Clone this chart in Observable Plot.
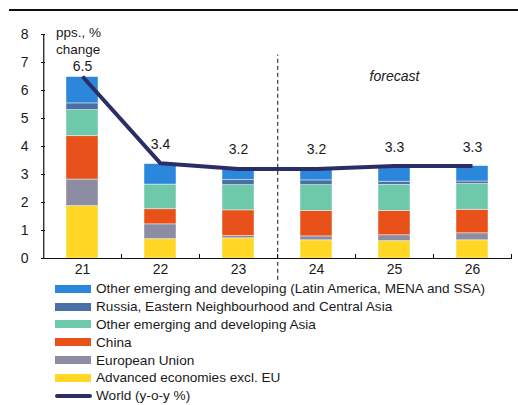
<!DOCTYPE html>
<html>
<head>
<meta charset="utf-8">
<script src="https://cdn.jsdelivr.net/npm/d3@7"></script>
<script src="https://cdn.jsdelivr.net/npm/@observablehq/plot@0.6"></script>
<style>
  body { margin: 0; background: #fff; font-family: "Liberation Sans", Arial, sans-serif; color: #1a1a1a; }
  #wrap { position: relative; width: 518px; height: 405px; overflow: hidden; }
  #rule { position: absolute; left: 9px; top: 9px; width: 509px; height: 2px; background: #111; }
  #chart { position: absolute; left: 0; top: 0; }
  #unit { position: absolute; left: 56px; top: 24px; font-size: 13.5px; line-height: 17px; }
  #legend { position: absolute; left: 55px; top: 280px; font-size: 13.6px; }
  .row { height: 17.8px; display: flex; align-items: center; white-space: nowrap; }
  .sw { width: 36px; height: 8px; margin-right: 5px; }
  .ln { width: 37px; height: 4px; border-radius: 2px; margin-right: 4px; }
</style>
</head>
<body>
<div id="wrap">
  <div id="chart"></div>
  <div id="rule"></div>
  <div id="unit">pps., %<br>change</div>
  <div id="legend"></div>
</div>
<script>
const years = ["21", "22", "23", "24", "25", "26"];
const seriesNames = [
  "Advanced economies excl. EU",
  "European Union",
  "China",
  "Other emerging and developing Asia",
  "Russia, Eastern Neighbourhood and Central Asia",
  "Other emerging and developing (Latin America, MENA and SSA)"
];
const seriesColors = ["#ffd724", "#8c8ca2", "#e8521a", "#6dc9a9", "#4a6fa5", "#2a87db"];
const advanced = [1.87, 0.69, 0.72, 0.65, 0.62, 0.65];
const eu       = [0.95, 0.53, 0.08, 0.14, 0.21, 0.25];
const china    = [1.55, 0.54, 0.92, 0.91, 0.87, 0.84];
const otherAsia = [0.93, 0.88, 0.90, 0.92, 0.93, 0.92];
const russia   = [0.24, 0.00, 0.18, 0.17, 0.11, 0.09];
const otherEm  = [0.94, 0.73, 0.37, 0.41, 0.56, 0.55];
const world    = [6.5, 3.4, 3.2, 3.2, 3.3, 3.3];
const worldLabels = ["6.5", "3.4", "3.2", "3.2", "3.3", "3.3"];
const worldName = "World (y-o-y %)";
const yTicks = [0, 1, 2, 3, 4, 5, 6, 7, 8];
const forecastLabel = "forecast";
const forecastAt = {x: "25", y: 6.5};
const forecastStart = "23";

const seriesValues = [advanced, eu, china, otherAsia, russia, otherEm];
const stackData = [];
seriesNames.forEach((s, i) => years.forEach((y, j) => stackData.push({year: y, series: s, value: seriesValues[i][j]})));
const worldData = years.map((y, j) => ({year: y, value: world[j], label: worldLabels[j]}));

const W = 518, H = 282, mL = 41, mR = 6, mT = 34, mB = 24;
const step = (W - mL - mR) / years.length;

function axisTicks(index, scales, values, dimensions) {
  const g = d3.create("svg:g").attr("stroke", "#111").attr("stroke-width", 1);
  const x0 = dimensions.marginLeft;
  const yb = dimensions.height - dimensions.marginBottom;
  for (const t of yTicks) {
    const y = Math.round(scales.y(t)) + 0.5;
    g.append("line").attr("x1", x0).attr("x2", x0 + 4).attr("y1", y).attr("y2", y);
  }
  const bw = typeof scales.x.bandwidth === "function" ? scales.x.bandwidth() : 0;
  years.forEach((yr, i) => {
    if (i === 0) return;
    const bx = Math.round(scales.x(yr) + bw / 2 - step / 2) + 0.5;
    g.append("line").attr("x1", bx).attr("x2", bx).attr("y1", yb).attr("y2", yb - 4);
  });
  const xe = dimensions.width - dimensions.marginRight - 0.5;
  g.append("line").attr("x1", xe).attr("x2", xe).attr("y1", yb).attr("y2", yb - 4);
  return g.node();
}

const chart = Plot.plot({
  width: W, height: H,
  marginLeft: mL, marginRight: mR, marginTop: mT, marginBottom: mB,
  style: {fontFamily: "'Liberation Sans', Arial, sans-serif", fontSize: "14px", color: "#1a1a1a", background: "transparent"},
  x: {domain: years, paddingInner: 0.59, paddingOuter: 0.295, label: null},
  y: {domain: [0, 8], label: null},
  color: {domain: seriesNames, range: seriesColors},
  marks: [
    Plot.barY(stackData, {x: "year", y: "value", fill: "series", stroke: "#ffffff", strokeOpacity: 0.55, strokeWidth: 0.8, order: seriesNames}),
    Plot.ruleX([forecastStart], {x: d => d, dx: step / 2, y1: -0.78, y2: 7.26, stroke: "#111", strokeWidth: 1, strokeDasharray: "4,3"}),
    Plot.axisY({ticks: yTicks, tickSize: 0, tickPadding: 13, fontSize: 14, fill: "#1a1a1a"}),
    Plot.axisX({tickSize: 0, tickPadding: 6, fontSize: 14, fill: "#1a1a1a"}),
    Plot.ruleY([0], {stroke: "#111", strokeWidth: 1.2}),
    Plot.ruleX([0], {x: () => years[0], dx: -step / 2 + 0.5, y1: 0, y2: 8, stroke: "#111", strokeWidth: 1.2}),
    axisTicks,
    Plot.lineY(worldData, {x: "year", y: "value", stroke: "#2b2d66", strokeWidth: 4, strokeLinecap: "butt"}),
    Plot.text(worldData, {filter: (d, i) => i === 0, x: "year", y: "value", text: "label", dy: -10, fontSize: 14, fill: "#1a1a1a"}),
    Plot.text(worldData, {filter: (d, i) => i > 0, x: "year", y: "value", text: "label", dy: -19, fontSize: 14, fill: "#1a1a1a"}),
    Plot.text([forecastLabel], {x: () => forecastAt.x, y: () => forecastAt.y, text: d => d, fontStyle: "italic", fontSize: 14, fill: "#1a1a1a"})
  ]
});
document.getElementById("chart").appendChild(chart);

const legend = document.getElementById("legend");
for (let i = seriesNames.length - 1; i >= 0; i--) {
  const r = document.createElement("div"); r.className = "row";
  r.innerHTML = `<span class="sw" style="background:${seriesColors[i]}"></span><span>${seriesNames[i]}</span>`;
  legend.appendChild(r);
}
const wr = document.createElement("div"); wr.className = "row";
wr.innerHTML = `<span class="ln" style="background:#2b2d66"></span><span>${worldName}</span>`;
legend.appendChild(wr);
</script>
</body>
</html>
